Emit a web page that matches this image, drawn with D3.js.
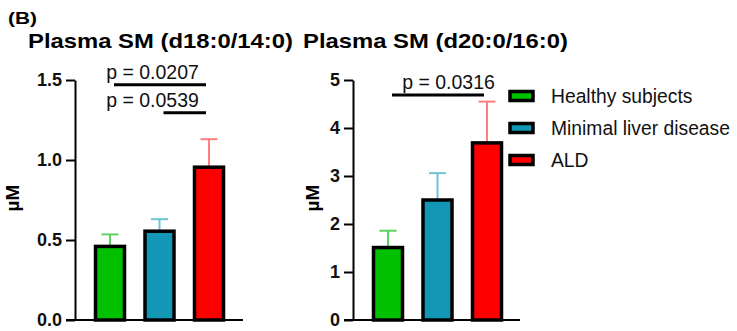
<!DOCTYPE html>
<html>
<head>
<meta charset="utf-8">
<script src="https://cdn.jsdelivr.net/npm/d3@7"></script>
<style>
  body { margin: 0; background: #fff; }
  svg { display: block; font-family: "Liberation Sans", Arial, sans-serif; }
</style>
</head>
<body>
<svg id="chart" width="737" height="331"></svg>
<script>
// groups and colours
const groups = ["Healthy subjects", "Minimal liver disease", "ALD"]
const fillColors = ["#00c000", "#1297b5", "#ff0000"]
const errColors = ["#5fd35f", "#6fc3d6", "#ff7f7f"]

// panel 1: Plasma SM (d18:0/14:0)
const meanA = [0.46, 0.555, 0.955]
const sdA = [0.075, 0.075, 0.175]
const ticksA = [0, 0.5, 1.0, 1.5]
const sigA = [{from: 0, to: 2, label: "p = 0.0207", level: 1.47}, {from: 1, to: 2, label: "p = 0.0539", level: 1.295}]

// panel 2: Plasma SM (d20:0/16:0)
const meanB = [1.51, 2.5, 3.69]
const sdB = [0.35, 0.56, 0.86]
const ticksB = [0, 1, 2, 3, 4, 5]
const sigB = [{from: 0, to: 2, label: "p = 0.0316", level: 4.69}]

const svg = d3.select("#chart")

svg.append("text").attr("x", 8).attr("y", 24)
    .attr("font-size", 17).attr("font-weight", "bold")
    .attr("textLength", 29).attr("lengthAdjust", "spacingAndGlyphs").text("(B)")

function panel(opts) {
    const g = svg.append("g")
    const y = d3.scaleLinear().domain([0, opts.max]).range([320, 80])
    const x = d3.scalePoint().domain(d3.range(3)).range([opts.x0 + 35, opts.x0 + 134])

    g.append("text").attr("x", opts.titleX).attr("y", 48)
        .attr("font-size", 21).attr("font-weight", "bold")
        .attr("textLength", 265).attr("lengthAdjust", "spacingAndGlyphs").text(opts.title)

    // y axis
    const yAxis = d3.axisLeft(y).tickValues(opts.ticks).tickFormat(opts.fmt)
        .tickSize(9).tickPadding(4).tickSizeOuter(0)
    const ya = g.append("g").attr("transform", `translate(${opts.x0},0)`).call(yAxis)
    ya.select(".domain").attr("stroke", "#000").attr("stroke-width", 2)
    ya.selectAll(".tick line").attr("stroke", "#000").attr("stroke-width", 2)
    ya.selectAll(".tick text").attr("font-size", 18).attr("font-weight", "bold")
        .attr("font-family", "Liberation Sans, Arial, sans-serif").attr("fill", "#111")

    // x axis line
    g.append("line").attr("x1", opts.x0 - 9).attr("x2", opts.x1).attr("y1", y(0)).attr("y2", y(0))
        .attr("stroke", "#000").attr("stroke-width", 2)

    g.append("text").attr("transform", `translate(${opts.labelX},198) rotate(-90)`)
        .attr("text-anchor", "middle").attr("font-size", 19).attr("font-weight", "bold").text("µM")

    // error bars (upper only)
    opts.mean.forEach((m, i) => {
        const cx = x(i), top = y(m + opts.sd[i])
        g.append("line").attr("x1", cx).attr("x2", cx).attr("y1", y(m)).attr("y2", top)
            .attr("stroke", errColors[i]).attr("stroke-width", 2)
        g.append("line").attr("x1", cx - 8.5).attr("x2", cx + 8.5).attr("y1", top).attr("y2", top)
            .attr("stroke", errColors[i]).attr("stroke-width", 2)
    })

    g.selectAll("rect.bar").data(opts.mean).join("rect").attr("class", "bar")
        .attr("x", (d, i) => x(i) - 14.5).attr("width", 29)
        .attr("y", d => y(d)).attr("height", d => y(0) - y(d))
        .attr("fill", (d, i) => fillColors[i]).attr("stroke", "#000").attr("stroke-width", 3.5)

    // significance bars
    const textX = (x(0) + x(2)) / 2 + opts.pShift
    opts.sig.forEach(s => {
        const xa = x(s.from) + 4, xb = x(s.to) - 3
        g.append("line").attr("x1", xa).attr("x2", xb).attr("y1", y(s.level)).attr("y2", y(s.level))
            .attr("stroke", "#000").attr("stroke-width", 3)
        g.append("text").attr("x", textX).attr("y", y(s.level) - 6)
            .attr("text-anchor", "middle").attr("font-size", 19.5).attr("fill", "#111").text(s.label)
    })
}

panel({title: "Plasma SM (d18:0/14:0)", titleX: 28, x0: 75, x1: 243, max: 1.5, ticks: ticksA,
    fmt: d3.format(".1f"), mean: meanA, sd: sdA, sig: sigA, pShift: -7, labelX: 19})
panel({title: "Plasma SM (d20:0/16:0)", titleX: 303, x0: 353, x1: 520, max: 5, ticks: ticksB,
    fmt: d3.format("d"), mean: meanB, sd: sdB, sig: sigB, pShift: 11, labelX: 319})

// legend
const leg = svg.append("g").attr("transform", "translate(508,96)")
groups.forEach((name, i) => {
    const row = leg.append("g").attr("transform", `translate(0,${i * 32})`)
    row.append("rect").attr("x", 2).attr("y", -4.5).attr("width", 23).attr("height", 9)
        .attr("fill", fillColors[i]).attr("stroke", "#000").attr("stroke-width", 3.5)
    row.append("text").attr("x", 43).attr("y", 7).attr("font-size", 19.3).attr("fill", "#111").text(name)
})
</script>
</body>
</html>
